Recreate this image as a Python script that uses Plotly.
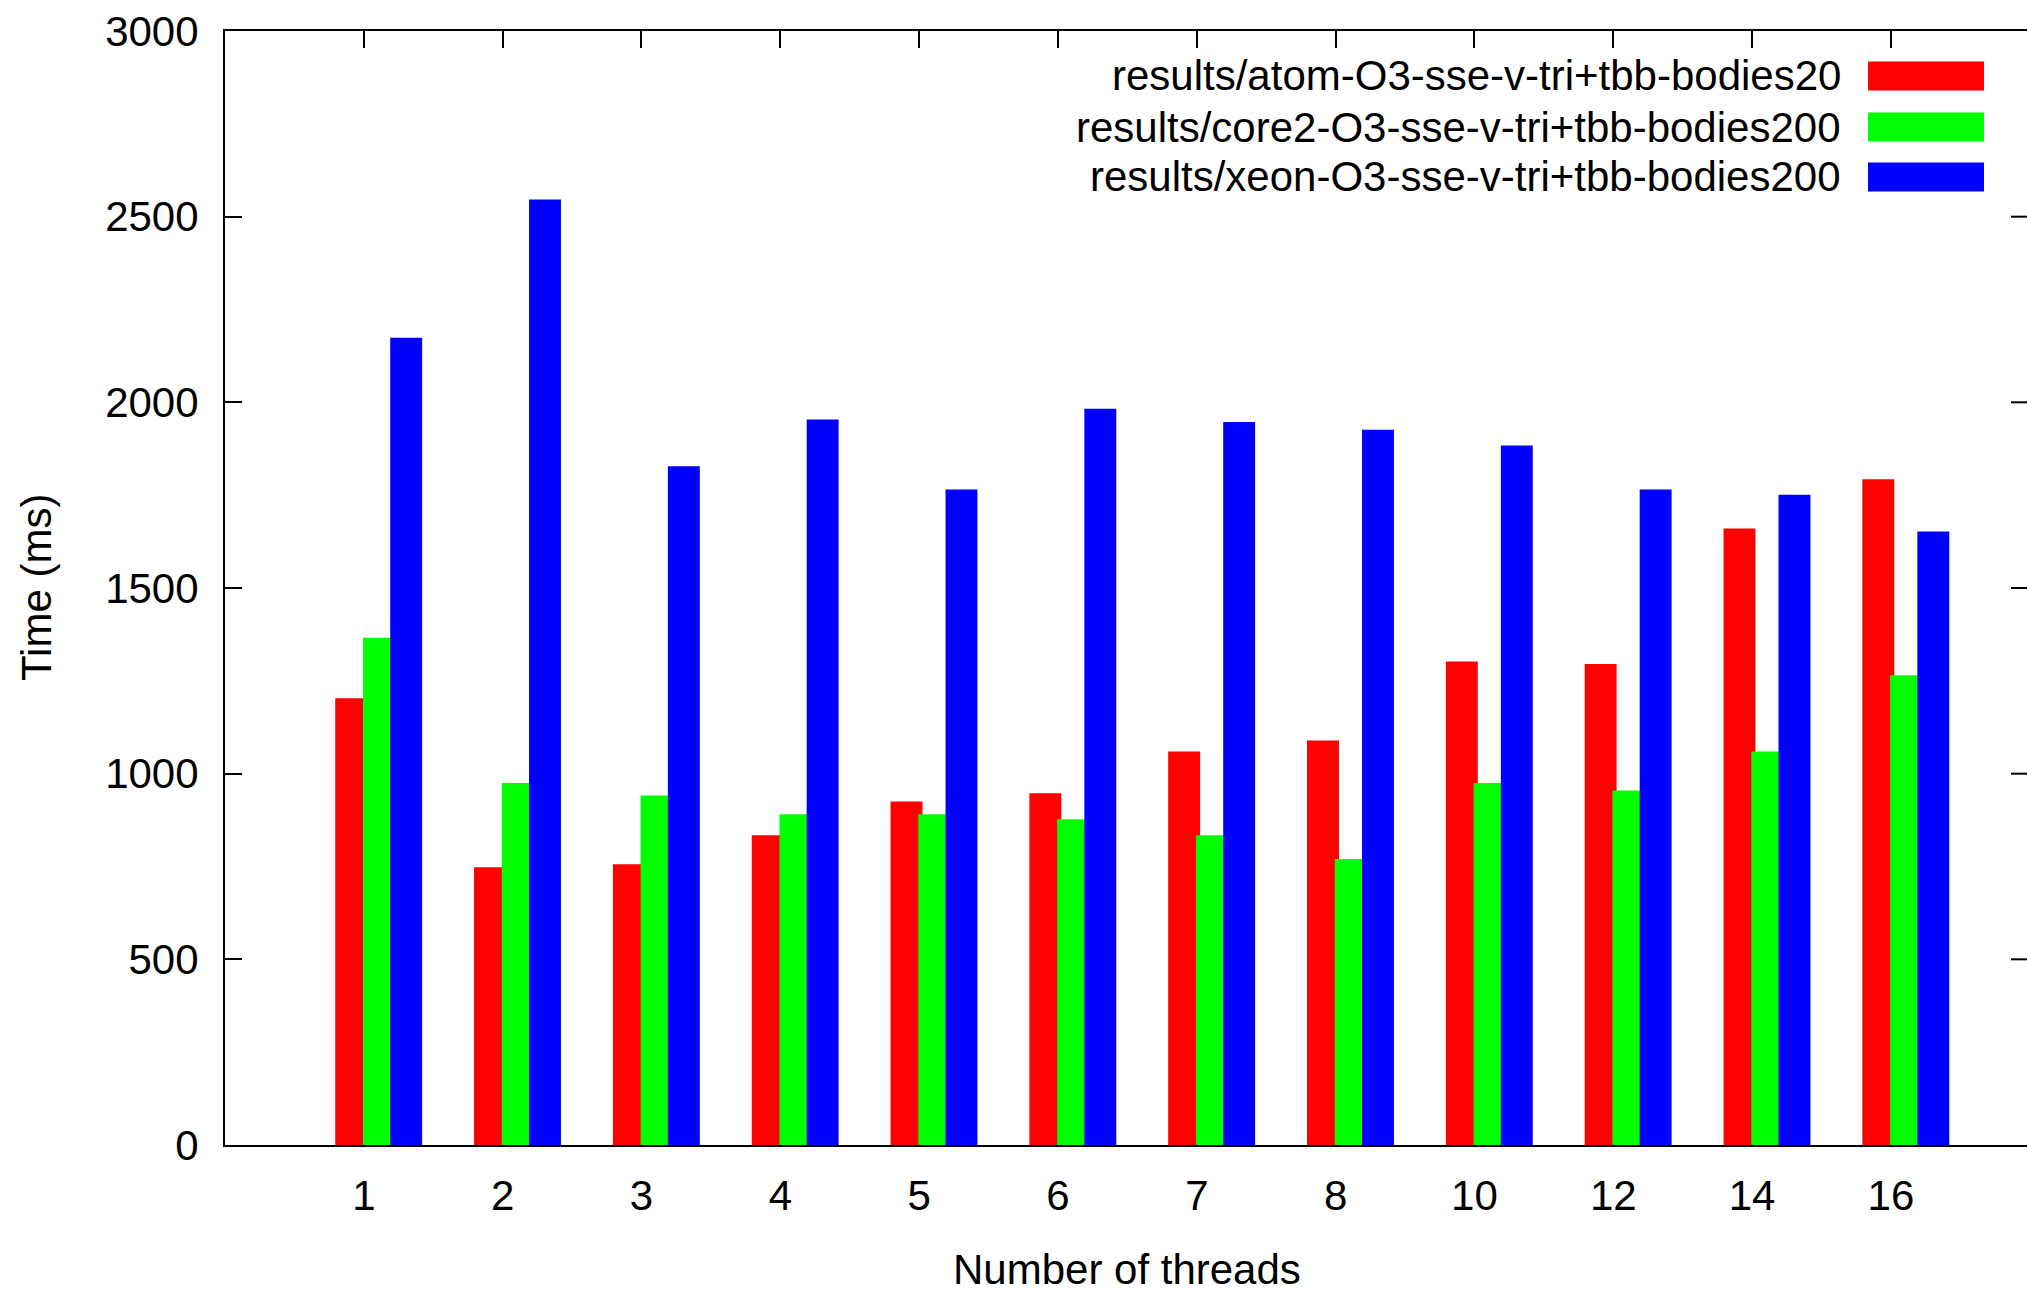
import plotly.graph_objects as go

# Thread counts on the x axis
threads = ["1", "2", "3", "4", "5", "6", "7", "8", "10", "12", "14", "16"]

# Run times in ms per machine
atom_ms = [1203, 748, 756, 834, 925, 947, 1060, 1089, 1302, 1295, 1660, 1793]
core2_ms = [1366, 975, 941, 891, 891, 877, 834, 770, 975, 955, 1060, 1265]
xeon_ms = [2174, 2546, 1828, 1954, 1765, 1983, 1947, 1926, 1884, 1765, 1751, 1652]

series_names = [
    "results/atom-O3-sse-v-tri+tbb-bodies20",
    "results/core2-O3-sse-v-tri+tbb-bodies200",
    "results/xeon-O3-sse-v-tri+tbb-bodies200",
]
y_ticks = [0, 500, 1000, 1500, 2000, 2500, 3000]

colors = ["#ff0000", "#00ff00", "#0000ff"]
offsets = [-0.206, -0.006, 0.19]
BAR_W = 0.23

W, H = 2027, 1293
PLOT_L, PLOT_R, PLOT_T, PLOT_B = 225, 2027, 31, 1145
FONT = "Liberation Sans, Arial, sans-serif"
FS = 42


def px_x(p):
    return (p - PLOT_L) / (PLOT_R - PLOT_L)


def px_y(p):
    return (PLOT_B - p) / (PLOT_B - PLOT_T)


fig = go.Figure()
xs = list(range(len(threads)))
for name, vals, col, off in zip(series_names, [atom_ms, core2_ms, xeon_ms], colors, offsets):
    fig.add_trace(go.Bar(
        x=xs, y=vals, name=name, width=BAR_W, offset=off,
        marker=dict(color=col, line=dict(width=0)),
        showlegend=False,
    ))

shapes = []
# ticks along the right border
for v in y_ticks[1:-1]:
    shapes.append(dict(type="line", xref="paper", yref="y",
                       x0=px_x(2011), x1=1.0, y0=v, y1=v,
                       line=dict(color="black", width=2)))

annotations = []
# key: right-aligned labels with colour swatches to their right
row_y = [76, 127, 177]
for name, col, ry in zip(series_names, colors, row_y):
    annotations.append(dict(xref="paper", yref="paper", x=px_x(1843), y=px_y(ry),
                            text=name, showarrow=False, xanchor="right", yanchor="middle",
                            font=dict(family=FONT, size=FS, color="black")))
    shapes.append(dict(type="rect", xref="paper", yref="paper",
                       x0=px_x(1868), x1=px_x(1984), y0=px_y(ry + 14.5), y1=px_y(ry - 14.5),
                       fillcolor=col, line=dict(width=0)))

# axis titles
annotations.append(dict(xref="paper", yref="paper", x=px_x(36), y=px_y(588),
                        text="Time (ms)", showarrow=False, textangle=-90,
                        xanchor="center", yanchor="middle",
                        font=dict(family=FONT, size=FS, color="black")))
annotations.append(dict(xref="paper", yref="paper", x=px_x(1127), y=px_y(1269),
                        text="Number of threads", showarrow=False,
                        xanchor="center", yanchor="middle",
                        font=dict(family=FONT, size=FS, color="black")))

fig.update_layout(
    width=W, height=H,
    margin=dict(l=PLOT_L, r=W - PLOT_R, t=PLOT_T, b=H - PLOT_B, autoexpand=False),
    paper_bgcolor="white", plot_bgcolor="white",
    barmode="overlay",
    font=dict(family=FONT, size=FS, color="black"),
    xaxis=dict(
        range=[-1, 11.98], tickmode="array", tickvals=xs, ticktext=threads,
        showline=True, linecolor="black", linewidth=2, mirror="ticks",
        ticks="inside", ticklen=17, tickwidth=2, tickcolor="black",
        showgrid=False, zeroline=False, layer="below traces",
        ticklabelstandoff=13,
    ),
    yaxis=dict(
        range=[0, 3000], tickmode="array", tickvals=y_ticks,
        showline=True, linecolor="black", linewidth=2,
        ticks="inside", ticklen=17, tickwidth=2, tickcolor="black",
        showgrid=False, zeroline=False, layer="below traces",
        ticklabelstandoff=16,
    ),
    shapes=shapes,
    annotations=annotations,
)

fig.write_html("out.html")
